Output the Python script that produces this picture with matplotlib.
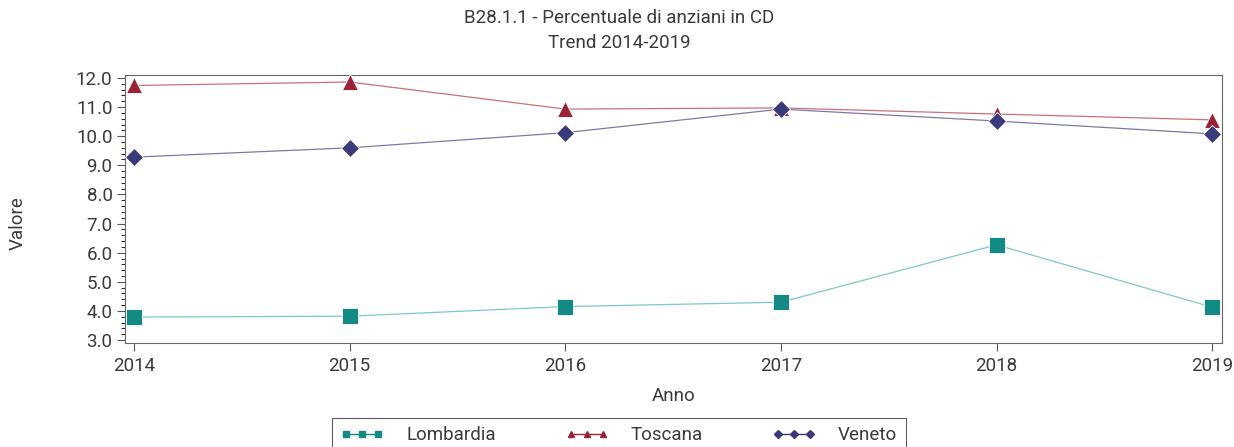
import matplotlib.pyplot as plt
from matplotlib.ticker import MultipleLocator

# Data
anni = [2014, 2015, 2016, 2017, 2018, 2019]
lombardia = [3.79, 3.82, 4.15, 4.30, 6.27, 4.13]
toscana = [11.74, 11.86, 10.93, 10.97, 10.76, 10.56]
veneto = [9.28, 9.60, 10.12, 10.93, 10.52, 10.08]

plt.rcParams['font.family'] = ['Roboto', 'DejaVu Sans']
text_col = '#3a3a3a'
fs = 13.5

fig = plt.figure(figsize=(12.34, 4.47), dpi=100)
ax = fig.add_axes([0.1013, 0.2327, 0.889, 0.5995])

series = [
    ('Lombardia', lombardia, '#138a84', '#7fc9c4', 's', 11),
    ('Toscana', toscana, '#9b2338', '#c9707f', '^', 12),
    ('Veneto', veneto, '#3b3b7c', '#7a7aa8', 'D', 9),
]
for name, vals, mc, lc, mk, ms in series:
    ax.plot(anni, vals, color=lc, linewidth=0.9, zorder=2)
    ax.plot(anni, vals, linestyle='none', marker=mk, markersize=ms,
            markerfacecolor=mc, markeredgecolor='white', markeredgewidth=0.6,
            zorder=3)

ax.set_xlim(2013.958, 2019.046)
ax.set_ylim(2.90, 12.10)
ax.set_xticks(anni)
ax.yaxis.set_major_locator(MultipleLocator(1.0))
ax.yaxis.set_minor_locator(MultipleLocator(0.2))
ax.yaxis.set_major_formatter(lambda v, p: f'{v:.1f}')
ax.tick_params(axis='both', labelsize=fs, colors='#555555', labelcolor=text_col)
ax.tick_params(axis='y', which='major', length=6, pad=3)
ax.tick_params(axis='y', which='minor', length=3)
ax.tick_params(axis='x', length=6, pad=4)
for s in ax.spines.values():
    s.set_color('#666666')

ax.set_xlabel('Anno', fontsize=fs, color=text_col, labelpad=9)
fig.text(0.014, 0.5, 'Valore', rotation=90, fontsize=fs, color=text_col,
         ha='center', va='center')
fig.text(0.502, 0.96, 'B28.1.1 - Percentuale di anziani in CD', fontsize=fs,
         color=text_col, ha='center', va='center')
fig.text(0.502, 0.903, 'Trend 2014-2019', fontsize=fs,
         color=text_col, ha='center', va='center')

# legend with small markers
handles = []
for name, vals, mc, lc, mk, ms in series:
    h, = ax.plot([], [], color=mc, linewidth=1.0, marker=mk, markersize=4,
                 markerfacecolor=mc, markeredgecolor=mc, label=name)
    handles.append(h)
leg = fig.legend(handles=handles, loc='upper center', bbox_to_anchor=(0.5015, 0.065),
                 ncol=3, numpoints=3, handlelength=2.3, fontsize=fs,
                 frameon=True, fancybox=False, borderpad=0.45, columnspacing=3.7,
                 handletextpad=1.2, borderaxespad=0)
leg.get_frame().set_edgecolor('#333333')
leg.get_frame().set_linewidth(0.8)
for t in leg.get_texts():
    t.set_color(text_col)

plt.savefig('out.png', dpi=100)
